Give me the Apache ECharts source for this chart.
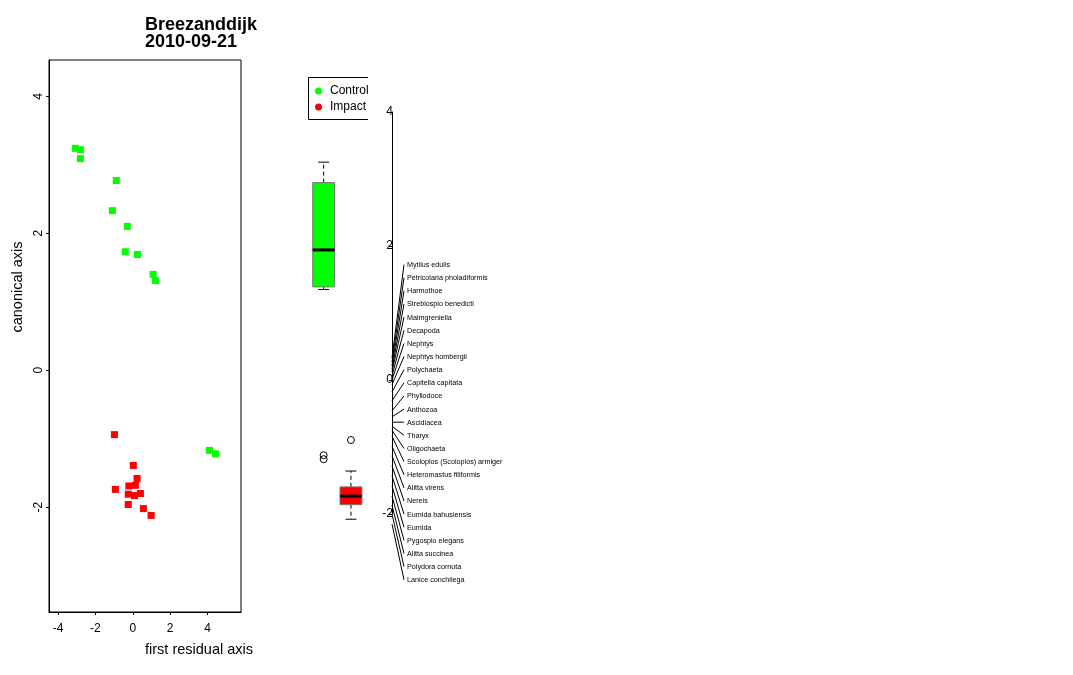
<!DOCTYPE html>
<html><head><meta charset="utf-8">
<script src="https://cdn.jsdelivr.net/npm/echarts@6/dist/echarts.min.js"></script>
<style>html,body{margin:0;padding:0;background:#fff}#c{width:1073px;height:675px}</style>
</head><body><div id="c"></div>
<script>
// ---- data ----
const titleText = 'Breezanddijk\n2010-09-21';
const xName = 'first residual axis';
const yName = 'canonical axis';
const xTicks = [-4, -2, 0, 2, 4];
const yTicks = [-2, 0, 2, 4];
const speciesTicks = [-2, 0, 2, 4];

const controlX = [-3.07, -2.80, -2.80, -0.88, -1.09, -0.29, -0.40, 0.25, 1.09, 1.21, 4.10, 4.42];
const controlY = [3.24, 3.22, 3.09, 2.77, 2.33, 2.10, 1.73, 1.69, 1.40, 1.31, -1.17, -1.22];
const impactX = [-0.98, 0.03, 0.23, -0.93, -0.21, 0.14, -0.24, 0.09, 0.41, -0.24, 0.57, 0.98];
const impactY = [-0.94, -1.39, -1.58, -1.74, -1.69, -1.68, -1.81, -1.83, -1.80, -1.96, -2.02, -2.12];

const boxGroups = ['Control', 'Impact'];
// [lower whisker, Q1, median, Q3, upper whisker]
const boxControl = [1.31, 1.35, 1.91, 2.93, 3.24];
const boxImpact = [-2.17, -1.95, -1.82, -1.68, -1.44];
const outlierControl = [-1.20, -1.26];
const outlierImpact = [-0.97];

const speciesNames = ['Mytilus edulis', 'Petricolaria pholadiformis', 'Harmothoe', 'Streblospio benedicti',
  'Malmgreniella', 'Decapoda', 'Nephtys', 'Nephtys hombergii', 'Polychaeta', 'Capitella capitata',
  'Phyllodoce', 'Anthozoa', 'Ascidiacea', 'Tharyx', 'Oligochaeta', 'Scoloplos (Scoloplos) armiger',
  'Heteromastus filiformis', 'Alitta virens', 'Nereis', 'Eumida bahusiensis', 'Eumida',
  'Pygospio elegans', 'Alitta succinea', 'Polydora cornuta', 'Lanice conchilega'];
const speciesScores = [0.33, 0.27, 0.21, 0.16, 0.12, 0.06, 0.00, -0.07, -0.18, -0.31,
  -0.46, -0.55, -0.63, -0.69, -0.75, -0.84, -0.99, -1.13, -1.28, -1.43,
  -1.58, -1.73, -1.87, -2.00, -2.15];

// ---- colours / layout ----
const GREEN = '#00ff00', RED = '#ff0000';
const FONT = 'Liberation Sans, Arial, sans-serif';

// label stacking (as in vegan::linestack): evenly push labels apart from the middle one
const labelGap = 0.196;
function stackLabels(scores) {
  const n = scores.length;
  const ord = scores.map((s, i) => i).sort((a, b) => scores[a] - scores[b]);
  const xs = ord.map(i => scores[i]);
  const pos = new Array(n);
  const mid = Math.floor((n + 1) / 2) - 1;
  pos[mid] = xs[mid];
  for (let i = mid + 1; i < n; i++) pos[i] = Math.max(xs[i], pos[i - 1] + labelGap);
  for (let i = mid - 1; i >= 0; i--) pos[i] = Math.min(xs[i], pos[i + 1] - labelGap);
  const out = new Array(n);
  ord.forEach((orig, k) => { out[orig] = pos[k]; });
  return out;
}
const labelPos = stackLabels(speciesScores);

const chart = echarts.init(document.getElementById('c'), null, { renderer: 'canvas' });

function renderBox(params, api) {
  const idx = api.value(0);
  const lo = api.coord([idx, api.value(1)]);
  const q1 = api.coord([idx, api.value(2)]);
  const md = api.coord([idx, api.value(3)]);
  const q3 = api.coord([idx, api.value(4)]);
  const hi = api.coord([idx, api.value(5)]);
  const bw = api.size([1, 0])[0] * 0.8;
  const cx = md[0];
  const fill = params.dataIndex === 0 ? GREEN : RED;
  const dash = { stroke: '#000', lineWidth: 1, lineDash: [4, 3] };
  const solid = { stroke: '#000', lineWidth: 1 };
  return {
    type: 'group', children: [
      { type: 'line', shape: { x1: cx, y1: q3[1], x2: cx, y2: hi[1] }, style: dash },
      { type: 'line', shape: { x1: cx, y1: q1[1], x2: cx, y2: lo[1] }, style: dash },
      { type: 'line', shape: { x1: cx - bw / 4, y1: hi[1], x2: cx + bw / 4, y2: hi[1] }, style: solid },
      { type: 'line', shape: { x1: cx - bw / 4, y1: lo[1], x2: cx + bw / 4, y2: lo[1] }, style: solid },
      { type: 'rect', shape: { x: cx - bw / 2, y: q3[1], width: bw, height: q1[1] - q3[1] }, style: { fill: fill, stroke: '#777', lineWidth: 1 } },
      { type: 'line', shape: { x1: cx - bw / 2, y1: md[1], x2: cx + bw / 2, y2: md[1] }, style: { stroke: '#000', lineWidth: 3 } }
    ]
  };
}

function renderSpecies(params, api) {
  const p0 = api.coord([api.value(0), api.value(1)]);
  const p1 = api.coord([api.value(2), api.value(3)]);
  return {
    type: 'group', children: [
      { type: 'line', shape: { x1: p0[0], y1: p0[1], x2: p1[0], y2: p1[1] }, style: { stroke: '#000', lineWidth: 1 } },
      { type: 'text', x: p1[0] + 3, y: p1[1] + 0.5, style: { text: speciesNames[params.dataIndex], fill: '#000', font: '7.2px ' + FONT, textAlign: 'left', textVerticalAlign: 'middle' } }
    ]
  };
}

const option = {
  backgroundColor: '#fff',
  animation: false,
  title: {
    text: titleText, left: 145, top: 17, padding: 0,
    textStyle: { fontFamily: FONT, fontSize: 18, fontWeight: 'bold', color: '#000', lineHeight: 17 }
  },
  legend: {
    data: ['Control', 'Impact'], orient: 'vertical', left: 315, top: 85,
    icon: 'circle', itemWidth: 7, itemHeight: 7, itemGap: 4, padding: 0,
    textStyle: { fontFamily: FONT, fontSize: 12, color: '#000', lineHeight: 12, padding: [0, 0, 0, 3] }
  },
  grid: [
    { left: 49, top: 60, width: 192, height: 552, show: true, borderColor: '#000', borderWidth: 1, backgroundColor: 'transparent' },
    { left: 310, top: 46, width: 54.6, height: 594 },
    { left: 392, top: 112, width: 120, height: 402 }
  ],
  xAxis: [
    {
      type: 'value', gridIndex: 0, min: -4.48, max: 5.79,
      axisLine: { show: true, onZero: false, lineStyle: { color: '#000', width: 1 } },
      axisTick: { show: true, length: 3, customValues: xTicks, lineStyle: { color: '#000' } },
      axisLabel: { customValues: xTicks, fontFamily: FONT, fontSize: 12, color: '#000', margin: 11 },
      splitLine: { show: false }
    },
    { type: 'category', gridIndex: 1, data: boxGroups, show: false },
    { type: 'value', gridIndex: 2, min: 0, max: 10, show: false }
  ],
  yAxis: [
    {
      type: 'value', gridIndex: 0, min: -3.53, max: 4.53,
      axisLine: { show: true, onZero: false, lineStyle: { color: '#000', width: 1 } },
      axisTick: { show: true, length: 3, customValues: yTicks, lineStyle: { color: '#000' } },
      axisLabel: { customValues: yTicks, fontFamily: FONT, fontSize: 12, color: '#000', margin: 4, rotate: 90 },
      splitLine: { show: false }
    },
    { type: 'value', gridIndex: 1, min: -4, max: 5, show: false },
    {
      type: 'value', gridIndex: 2, min: -2, max: 4,
      axisLine: { show: true, onZero: false, lineStyle: { color: '#000', width: 1 } },
      axisTick: { show: true, length: 3, customValues: speciesTicks, lineStyle: { color: '#000' } },
      axisLabel: { customValues: speciesTicks, fontFamily: FONT, fontSize: 12, color: '#000', margin: -1 },
      splitLine: { show: false }
    }
  ],
  graphic: [
    { type: 'polyline', shape: { points: [[368, 77.5], [308.5, 77.5], [308.5, 119.5], [368, 119.5]] }, style: { stroke: '#000', fill: null, lineWidth: 1 } },
    { type: 'text', x: 199, y: 650, style: { text: xName, font: '14.5px ' + FONT, fill: '#000', textAlign: 'center', textVerticalAlign: 'middle' } },
    { type: 'text', x: 18, y: 287, rotation: Math.PI / 2, style: { text: yName, font: '14.5px ' + FONT, fill: '#000', textAlign: 'center', textVerticalAlign: 'middle' } }
  ],
  series: [
    {
      name: 'Control', type: 'scatter', xAxisIndex: 0, yAxisIndex: 0, symbol: 'rect', symbolSize: 7,
      itemStyle: { color: GREEN, opacity: 1 }, data: controlX.map((x, i) => [x, controlY[i]])
    },
    {
      name: 'Impact', type: 'scatter', xAxisIndex: 0, yAxisIndex: 0, symbol: 'rect', symbolSize: 7,
      itemStyle: { color: RED, opacity: 1 }, data: impactX.map((x, i) => [x, impactY[i]])
    },
    {
      name: 'box', type: 'custom', xAxisIndex: 1, yAxisIndex: 1, renderItem: renderBox,
      encode: { x: 0, y: [1, 2, 3, 4, 5] },
      data: [[0].concat(boxControl), [1].concat(boxImpact)]
    },
    {
      name: 'outliers', type: 'scatter', xAxisIndex: 1, yAxisIndex: 1, symbol: 'circle', symbolSize: 7,
      itemStyle: { color: 'rgba(0,0,0,0)', borderColor: '#000', borderWidth: 1, opacity: 1 },
      data: outlierControl.map(v => [0, v]).concat(outlierImpact.map(v => [1, v]))
    },
    {
      name: 'species', type: 'custom', xAxisIndex: 2, yAxisIndex: 2, renderItem: renderSpecies, clip: false,
      encode: { x: [0, 2], y: [1, 3] },
      data: speciesScores.map((s, i) => [0, s, 1, labelPos[i]])
    }
  ]
};
chart.setOption(option);
</script>
</body></html>
